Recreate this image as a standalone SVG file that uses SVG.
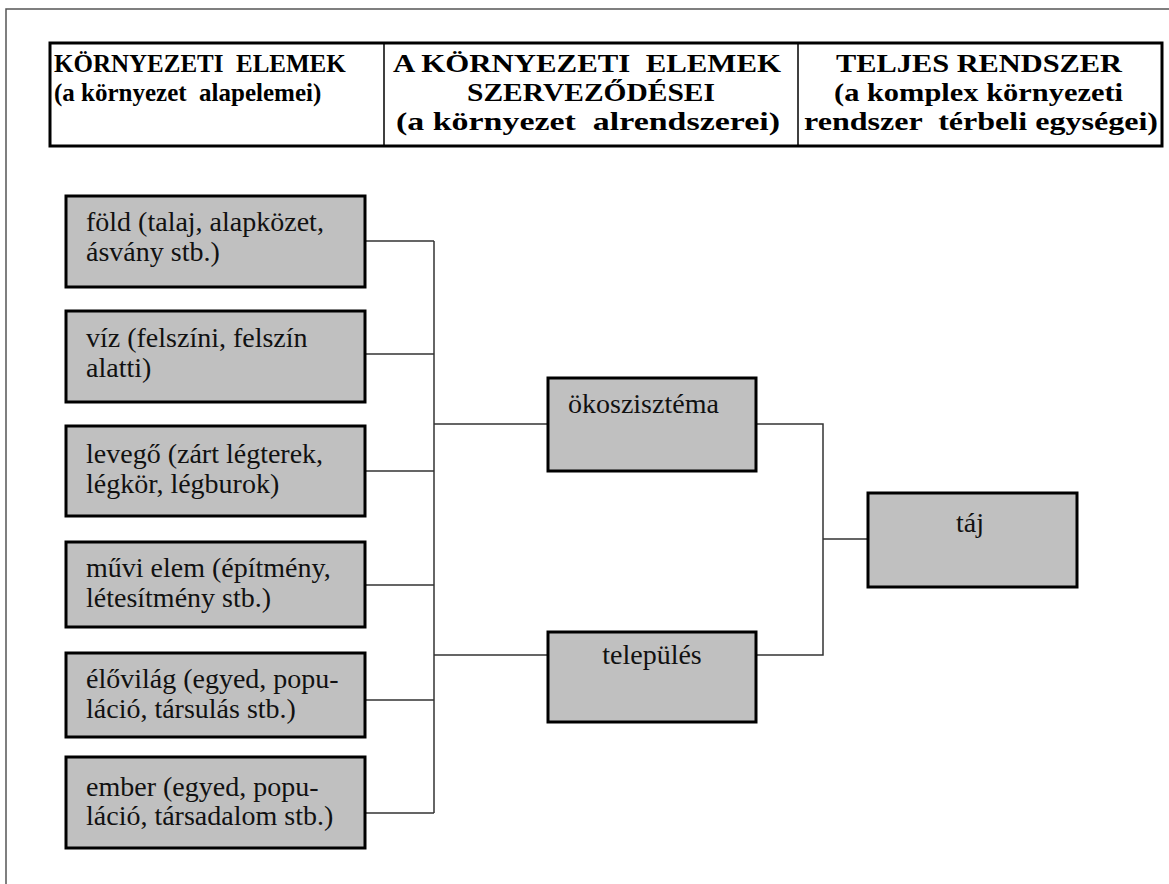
<svg xmlns="http://www.w3.org/2000/svg" width="1169" height="884" viewBox="0 0 1169 884">
  <style>
    .frame { fill: none; stroke: #555; stroke-width: 1.5; }
    .table { fill: #fff; stroke: #000; stroke-width: 3; }
    .divider { stroke: #000; stroke-width: 1.5; }
    .head { font-weight: bold; font-size: 25px; fill: #000; white-space: pre; }
    .box { fill: #c0c0c0; stroke: #000; stroke-width: 3; }
    .label { font-size: 28px; fill: #111; }
    .link { fill: none; stroke: #333; stroke-width: 1.5; }
  </style>

  <rect width="1169" height="884" fill="#fff"/>
  <!-- page border (top and left only) -->
  <path class="frame" d="M6,884 V9 H1169"/>

  <!-- header table -->
  <g id="header" font-family="'Liberation Serif', 'DejaVu Serif', serif">
    <rect class="table" x="50" y="43" width="1112" height="103"/>
    <line class="divider" x1="384" y1="43" x2="384" y2="146"/>
    <line class="divider" x1="798" y1="43" x2="798" y2="146"/>
    <text class="head" x="54" y="72">KÖRNYEZETI  ELEMEK</text>
    <text class="head" x="54" y="101">(a környezet  alapelemei)</text>
    <text class="head" x="393" y="72" textLength="388" lengthAdjust="spacingAndGlyphs">A KÖRNYEZETI  ELEMEK</text>
    <text class="head" x="467" y="101" textLength="248" lengthAdjust="spacingAndGlyphs">SZERVEZŐDÉSEI</text>
    <text class="head" x="396" y="130" textLength="384" lengthAdjust="spacingAndGlyphs">(a környezet  alrendszerei)</text>
    <text class="head" x="836" y="72" textLength="286" lengthAdjust="spacingAndGlyphs">TELJES RENDSZER</text>
    <text class="head" x="834" y="101" textLength="289" lengthAdjust="spacingAndGlyphs">(a komplex környezeti</text>
    <text class="head" x="804" y="130" textLength="354" lengthAdjust="spacingAndGlyphs">rendszer  térbeli egységei)</text>
  </g>

  <!-- connectors -->
  <g id="connectors">
    <path class="link" d="M365,241 H434 M365,354 H434 M365,471 H434 M365,585 H434 M365,700 H434 M365,813 H434"/>
    <path class="link" d="M434,241 V813"/>
    <path class="link" d="M434,424 H548 M434,655 H548"/>
    <path class="link" d="M756,424 H823 V655 H756 M823,539 H868"/>
  </g>

  <g id="nodes" font-family="'Liberation Serif', 'DejaVu Serif', serif">
    <!-- environmental elements -->
    <g id="fold">
      <rect class="box" x="66" y="196" width="299" height="91"/>
      <text class="label" x="86" y="231">föld (talaj, alapközet,</text>
      <text class="label" x="86" y="261">ásvány stb.)</text>
    </g>
    <g id="viz">
      <rect class="box" x="66" y="311" width="299" height="91"/>
      <text class="label" x="86" y="347">víz (felszíni, felszín</text>
      <text class="label" x="86" y="377">alatti)</text>
    </g>
    <g id="levego">
      <rect class="box" x="66" y="426" width="299" height="90"/>
      <text class="label" x="86" y="463">levegő (zárt légterek,</text>
      <text class="label" x="86" y="493">légkör, légburok)</text>
    </g>
    <g id="muvi-elem">
      <rect class="box" x="66" y="542" width="299" height="85"/>
      <text class="label" x="86" y="577">művi elem (építmény,</text>
      <text class="label" x="86" y="607">létesítmény stb.)</text>
    </g>
    <g id="elovilag">
      <rect class="box" x="66" y="653" width="299" height="84"/>
      <text class="label" x="86" y="688">élővilág (egyed, popu-</text>
      <text class="label" x="86" y="718">láció, társulás stb.)</text>
    </g>
    <g id="ember">
      <rect class="box" x="66" y="757" width="299" height="91"/>
      <text class="label" x="86" y="796">ember (egyed, popu-</text>
      <text class="label" x="86" y="825">láció, társadalom stb.)</text>
    </g>

    <!-- subsystems -->
    <g id="okoszisztema">
      <rect class="box" x="548" y="378" width="208" height="93"/>
      <text class="label" x="568" y="413">ökoszisztéma</text>
    </g>
    <g id="telepules">
      <rect class="box" x="548" y="632" width="208" height="90"/>
      <text class="label" x="652" y="664" text-anchor="middle">település</text>
    </g>

    <!-- whole system -->
    <g id="taj">
      <rect class="box" x="868" y="493" width="209" height="94"/>
      <text class="label" x="970" y="532" text-anchor="middle">táj</text>
    </g>
  </g>
</svg>
